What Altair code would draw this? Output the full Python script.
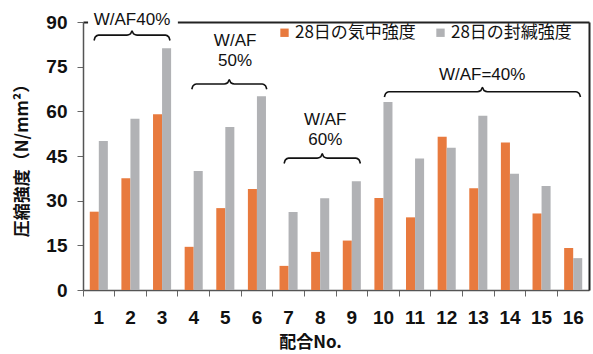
import altair as alt
import pandas as pd

# ---- data ----
cats = [str(i) for i in range(1, 17)]
air = [26.3, 37.5, 59.0, 14.5, 27.5, 33.9, 8.1, 12.8, 16.6, 30.9, 24.4, 51.5, 34.2, 49.5, 25.7, 14.1]
sealed = [50.0, 57.5, 81.2, 40.0, 54.7, 65.1, 26.2, 30.8, 36.5, 63.1, 44.2, 47.8, 58.5, 39.0, 34.9, 10.7]
series = ["28日の気中強度", "28日の封緘強度"]
colors = ["#E87A3E", "#B1B2B5"]
y_ticks = [0, 15, 30, 45, 60, 75, 90]

# group annotations (label, first mix, last mix)
group_labels = ["W/AF40%", "W/AF\n50%", "W/AF\n60%", "W/AF=40%"]
group_first = [1, 4, 7, 10]
group_last = [3, 6, 9, 16]

# ---- layout of annotations (in data units: x = mix index, y = strength) ----
brace_x0 = [0.85, 3.94, 6.86, 10.03]
brace_x1 = [3.25, 6.31, 9.27, 16.23]
brace_y = [85.6, 69.2, 44.3, 66.6]
label_x = [2.05, 5.31, 8.16, 13.12]
label_y = [93.4, 86.4, 59.8, 75.0]
box_x0 = [0.66, 4.42, 6.96, 11.48]
box_x1 = [3.50, 6.20, 9.17, 14.87]
box_y0 = [88.0, 73.9, 47.0, 68.5]
box_y1 = [94.0, 87.3, 62.5, 76.6]

FONT_N = "Liberation Sans, Arial, sans-serif"
FONT_J = "Noto Sans CJK JP"

bars_df = pd.DataFrame({
    "cat": cats * 2,
    "series": [series[0]] * 16 + [series[1]] * 16,
    "value": air + sealed,
})

box_df = pd.DataFrame({"x0": box_x0, "x1": box_x1, "y0": box_y0, "y1": box_y1})
label_df = pd.DataFrame({"x": label_x, "y": label_y, "label": group_labels})

rows = []
for g in range(len(group_labels)):
    x0, x1, yl = brace_x0[g], brace_x1[g], brace_y[g]
    xm = (x0 + x1) / 2
    shape = [
        (x0, yl - 1.8), (x0 + 0.04, yl - 0.6), (x0 + 0.14, yl),
        (xm - 0.16, yl), (xm - 0.05, yl + 0.4), (xm, yl + 1.4),
        (xm + 0.05, yl + 0.4), (xm + 0.16, yl),
        (x1 - 0.14, yl), (x1 - 0.04, yl - 0.6), (x1, yl - 1.8),
    ]
    for i, (px, py) in enumerate(shape):
        rows.append({"g": g, "i": i, "x": px, "y": py})
brace_df = pd.DataFrame(rows)

xq = alt.Scale(domain=[0.5, 16.5], nice=False, zero=False)
yq = alt.Scale(domain=[0, 90], nice=False)
frame_x_axis = alt.Axis(orient="top", labels=False, ticks=False, grid=False, title=None,
                        domainColor="#222222", domainWidth=2)
frame_y_axis = alt.Axis(orient="right", labels=False, ticks=False, grid=False, title=None,
                        domainColor="#222222", domainWidth=2)

boxes = alt.Chart(box_df).mark_rect(color="white").encode(
    x=alt.X("x0:Q", scale=xq, axis=frame_x_axis), x2="x1:Q",
    y=alt.Y("y0:Q", scale=yq, axis=frame_y_axis), y2="y1:Q",
)
braces = alt.Chart(brace_df).mark_line(color="#111111", strokeWidth=1.6, interpolate="monotone").encode(
    x=alt.X("x:Q", scale=xq), y=alt.Y("y:Q", scale=yq), detail="g:N", order="i:O",
)
texts = alt.Chart(label_df).mark_text(
    font=FONT_N, fontSize=17, color="#111111", lineBreak="\n", lineHeight=20,
    align="center", baseline="top",
).encode(x=alt.X("x:Q", scale=xq), y=alt.Y("y:Q", scale=yq), text="label:N")

annot = alt.layer(boxes, braces, texts)

bars = alt.Chart(bars_df).mark_bar().encode(
    x=alt.X("cat:N", sort=cats, scale=alt.Scale(paddingInner=0, paddingOuter=0),
            axis=alt.Axis(orient="bottom", title="配合No.", labelAngle=0, bandPosition=0,
                          labelFont=FONT_N, labelFontSize=19, labelFontWeight="bold", labelColor="#111111",
                          labelPadding=12, tickSize=6, tickColor="#666666", domainColor="#555555",
                          domainWidth=1.5, titleFont=FONT_J, titleFontSize=17, titleFontWeight="bold",
                          titleColor="#111111", titlePadding=7, titleX=227)),
    xOffset=alt.XOffset("series:N", sort=series,
                        scale=alt.Scale(paddingInner=0, paddingOuter=0.75)),
    y=alt.Y("value:Q", scale=yq,
            axis=alt.Axis(orient="left", values=y_ticks, title="圧縮強度（N/mm²）",
                          labelFont=FONT_N, labelFontSize=19, labelFontWeight="bold", labelColor="#111111",
                          labelPadding=10, tickSize=6, tickColor="#666666", domainColor="#555555",
                          domainWidth=1.5, gridColor="#C6C6C6", gridWidth=1.5,
                          titleFont=FONT_J, titleFontSize=17, titleFontWeight="bold", titleColor="#111111",
                          titleX=-61, titleY=134, titleAlign="center", titleBaseline="middle")),
    color=alt.Color("series:N", sort=series, scale=alt.Scale(domain=series, range=colors),
                    legend=alt.Legend(orient="none", legendX=193, legendY=2, direction="horizontal",
                                      title=None, symbolType="square", symbolSize=70,
                                      symbolStrokeWidth=0, labelFont=FONT_J, labelFontSize=17,
                                      labelColor="#111111", columnPadding=16, labelOffset=2)),
)

chart = alt.layer(annot, bars).resolve_scale(x="independent", y="independent").properties(
    width=506, height=268,
    autosize=alt.AutoSizeParams(type="none"),
    padding={"left": 83, "top": 22, "right": 4, "bottom": 64},
).configure_view(stroke=None)

chart.save("out.html", embed_options={"renderer": "svg", "actions": False})
